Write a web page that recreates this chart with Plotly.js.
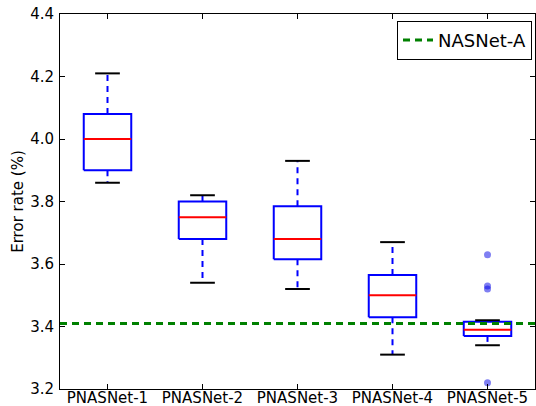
<!DOCTYPE html>
<html>
<head>
<meta charset="utf-8">
<script src="https://cdn.plot.ly/plotly-3.0.1.min.js"></script>
<style>html,body{margin:0;padding:0;background:#fff;}#chart{width:536px;height:406px;}</style>
</head>
<body>
<div id="chart"></div>
<script>
var categories = ['PNASNet-1', 'PNASNet-2', 'PNASNet-3', 'PNASNet-4', 'PNASNet-5'];
var lowerWhisker = [3.86, 3.54, 3.52, 3.31, 3.34];
var q1 = [3.90, 3.68, 3.615, 3.43, 3.37];
var median = [4.00, 3.75, 3.68, 3.50, 3.39];
var q3 = [4.08, 3.80, 3.785, 3.565, 3.415];
var upperWhisker = [4.21, 3.82, 3.93, 3.67, 3.42];
var outlierGroup = [5, 5, 5, 5];
var outlierValues = [3.63, 3.53, 3.52, 3.22];
var nasnetA = 3.41;
var yTicks = [3.2, 3.4, 3.6, 3.8, 4.0, 4.2, 4.4];

var halfBox = 0.25, halfCap = 0.13;
var boxX = [], boxY = [], medX = [], medY = [], whX = [], whY = [], capX = [], capY = [];
for (var i = 0; i < categories.length; i++) {
  var c = i + 1;
  boxX.push(c - halfBox, c + halfBox, c + halfBox, c - halfBox, c - halfBox, null);
  boxY.push(q1[i], q1[i], q3[i], q3[i], q1[i], null);
  medX.push(c - halfBox, c + halfBox, null);
  medY.push(median[i], median[i], null);
  whX.push(c, c, null, c, c, null);
  whY.push(q3[i], upperWhisker[i], null, q1[i], lowerWhisker[i], null);
  capX.push(c - halfCap, c + halfCap, null, c - halfCap, c + halfCap, null);
  capY.push(upperWhisker[i], upperWhisker[i], null, lowerWhisker[i], lowerWhisker[i], null);
}

var traces = [
  {x: whX, y: whY, mode: 'lines', line: {color: '#0000ff', width: 2, dash: '6px,5px'}, showlegend: false, hoverinfo: 'skip'},
  {x: boxX, y: boxY, mode: 'lines', line: {color: '#0000ff', width: 2}, showlegend: false, hoverinfo: 'skip'},
  {x: capX, y: capY, mode: 'lines', line: {color: '#000000', width: 2}, showlegend: false, hoverinfo: 'skip'},
  {x: medX, y: medY, mode: 'lines', line: {color: '#ff0000', width: 2}, showlegend: false, hoverinfo: 'skip'},
  {x: [0.5, categories.length + 0.5], y: [nasnetA, nasnetA], mode: 'lines', name: 'NASNet-A',
   line: {color: '#008000', width: 3, dash: '7px,5px'}},
  {x: outlierGroup, y: outlierValues, mode: 'markers', showlegend: false,
   marker: {color: 'rgba(0,0,230,0.5)', size: 7, line: {width: 0}}}
];

var font = {family: 'DejaVu Sans, sans-serif', size: 15, color: '#000'};
var layout = {
  width: 536, height: 406,
  margin: {l: 60, r: 1, t: 14, b: 17, pad: 0},
  paper_bgcolor: '#fff', plot_bgcolor: '#fff',
  font: font,
  showlegend: true,
  legend: {x: 0.9937, y: 0.982, xanchor: 'right', yanchor: 'top', bgcolor: '#fff', itemwidth: 30,
           bordercolor: '#000', borderwidth: 1, font: {family: 'DejaVu Sans, sans-serif', size: 18, color: '#000'}},
  xaxis: {range: [0.5, categories.length + 0.5], tickmode: 'array', tickvals: categories.map(function(_, i){return i + 1;}),
          ticktext: categories, ticks: 'inside', ticklen: 5, tickcolor: '#000', showline: true, linecolor: '#000',
          linewidth: 1, mirror: 'ticks', showgrid: false, zeroline: false, tickfont: font, ticklabelstandoff: -5},
  yaxis: {range: [3.2, 4.4], tickmode: 'array', tickvals: yTicks, ticktext: yTicks.map(function(v){return v.toFixed(1);}),
          ticks: 'inside', ticklen: 5, tickcolor: '#000', showline: true, linecolor: '#000', linewidth: 1,
          mirror: 'ticks', showgrid: false, zeroline: false, tickfont: font, ticklabelstandoff: 2,
          title: {text: 'Error rate (%)', font: font, standoff: 2}}
};

Plotly.newPlot('chart', traces, layout, {displayModeBar: false, staticPlot: true});
</script>
</body>
</html>
